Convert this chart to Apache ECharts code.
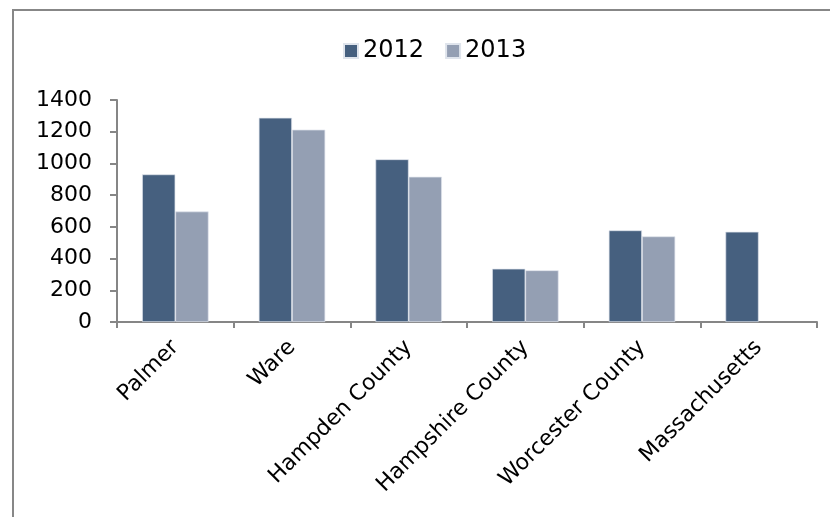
<!DOCTYPE html>
<html>
<head>
<meta charset="utf-8">
<script src="https://cdn.jsdelivr.net/npm/echarts@6/dist/echarts.min.js"></script>
<style>
html,body{margin:0;padding:0;background:#fff;}
#chart{width:830px;height:517px;}
</style>
</head>
<body>
<div id="chart"></div>
<script>
var categories = ['Palmer', 'Ware', 'Hampden County', 'Hampshire County', 'Worcester County', 'Massachusetts'];
var values2012 = [931, 1288, 1026, 336, 578, 569];
var values2013 = [697, 1213, 916, 326, 540, null];
var yTicks = [0, 200, 400, 600, 800, 1000, 1200, 1400];

var font = 'DejaVu Sans';
var chart = echarts.init(document.getElementById('chart'));
chart.setOption({
	animation: false,
	backgroundColor: '#fff',
	graphic: [{
		type: 'rect',
		shape: { x: 13, y: 10, width: 840, height: 540 },
		style: { fill: 'none', stroke: '#878787', lineWidth: 2 },
		silent: true
	}],
	legend: {
		top: 34,
		left: 338,
		itemWidth: 14,
		itemHeight: 14,
		itemGap: 21,
		icon: 'rect',
		textStyle: { fontFamily: font, fontSize: 24, color: '#000' },
		data: ['2012', '2013']
	},
	grid: { left: 117, right: 13, top: 100, bottom: 195, containLabel: false },
	xAxis: {
		type: 'category',
		data: categories,
		axisLine: { lineStyle: { color: '#868686', width: 2 } },
		axisTick: { show: true, length: 6, lineStyle: { color: '#868686', width: 2 } },
		axisLabel: { rotate: 45, fontFamily: font, fontSize: 22, color: '#000', margin: 22, interval: 0 }
	},
	yAxis: {
		type: 'value',
		min: 0, max: yTicks[yTicks.length - 1], interval: 200,
		splitLine: { show: false },
		axisLine: { show: true, lineStyle: { color: '#868686', width: 2 } },
		axisTick: { show: true, length: 7, inside: false, lineStyle: { color: '#868686', width: 2 } },
		axisLabel: {
			fontFamily: font, fontSize: 22, color: '#000', margin: 25,
			formatter: function(v) { return String(v); }
		}
	},
	series: [{
		name: '2012',
		type: 'bar',
		data: values2012,
		barGap: '0%',
		barCategoryGap: '43%',
		itemStyle: { color: '#46607f', borderColor: '#dfe4ec', borderWidth: 0.7 }
	}, {
		name: '2013',
		type: 'bar',
		data: values2013,
		itemStyle: { color: '#949fb3', borderColor: '#dfe4ec', borderWidth: 0.7 }
	}]
});
</script>
</body>
</html>
